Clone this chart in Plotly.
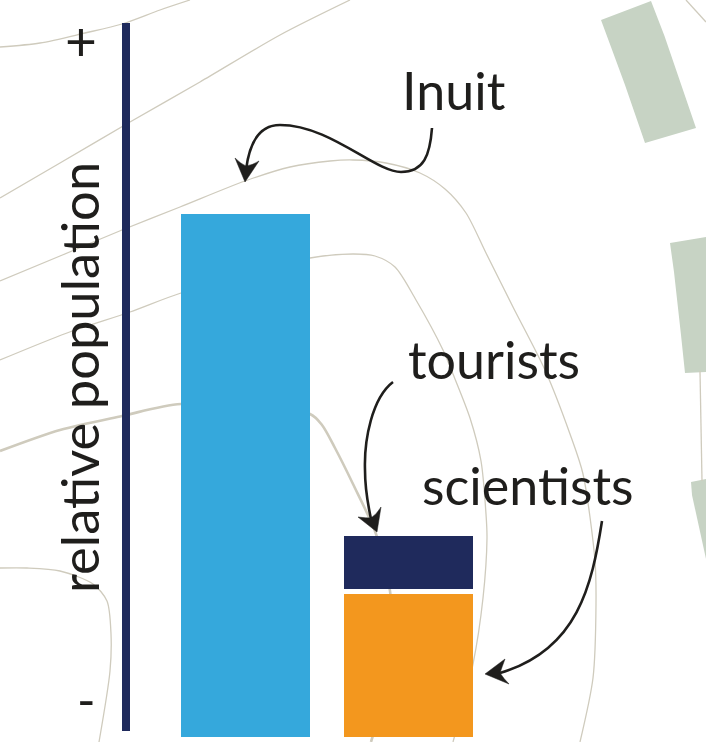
import plotly.graph_objects as go

# ---------- data ----------
groups = ["Inuit", "visitors"]
inuit_values = [523, None]
scientist_values = [None, 143]
tourist_values = [None, 53]
tourist_base = [None, 148]

axis_title = "relative population"
axis_high = "+"
axis_low = "-"

contour_1_x = [0, 40, 85, 122, 160, 190]
contour_1_y = [47, 43, 33, 24, 10, 0]
contour_2_x = [0, 60, 130, 200, 280, 350]
contour_2_y = [198, 163, 122, 82, 35, 0]
contour_3_x = [0, 60, 122, 180, 245, 290, 330, 353, 386, 420, 445, 466, 486, 513, 545, 570, 583, 595, 596, 593, 580]
contour_3_y = [281, 256, 230, 207, 181, 167, 161, 160, 163, 173, 189, 213, 253, 307, 370, 434, 474, 561, 604, 678, 742]
contour_4_x = [0, 67, 130, 181, 310, 353, 375, 395, 416, 443, 453, 470, 481, 486, 487, 483, 473, 453]
contour_4_y = [360, 333, 312, 293, 258, 254, 256, 267, 300, 350, 374, 418, 461, 514, 538, 598, 664, 742]
contour_5_x = [0, 60, 122, 181, 310, 322, 335, 353, 376, 390, 392, 371]
contour_5_y = [451, 430, 416, 404, 414, 425, 448, 484, 534, 591, 660, 742]
contour_6_x = [0, 27, 60, 93, 107, 111, 110, 99]
contour_6_y = [568, 568, 571, 584, 601, 634, 671, 742]
contour_7_x = [686, 706]
contour_7_y = [0, 22]
contour_8_x = [700, 702]
contour_8_y = [371, 481]

thin_contours = [
    (contour_1_x, contour_1_y), (contour_2_x, contour_2_y), (contour_3_x, contour_3_y),
    (contour_4_x, contour_4_y), (contour_6_x, contour_6_y), (contour_7_x, contour_7_y),
    (contour_8_x, contour_8_y),
]

patch_1_x = [601, 651, 664.5, 680.5, 696, 645, 625, 611, 601]
patch_1_y = [20, 1, 36, 82, 128, 143, 85, 47, 20]
patch_2_x = [670, 706, 706, 685, 681, 678, 674, 670]
patch_2_y = [243, 237, 372, 373, 335, 307, 272, 243]
patch_3_x = [691, 706, 706, 700, 695, 692, 691]
patch_3_y = [482, 479, 559, 533, 508, 495, 482]

# ---------- styles ----------
BLUE = "#35A8DC"
NAVY = "#1F2A5C"
ORANGE = "#F3971E"
GREEN = "#C7D3C4"
CONTOUR = "#CFCBBD"
INK = "#1F1E1C"
FONT = "Lato"

fig = go.Figure()

for px, py in (
    (patch_1_x, patch_1_y),
    (patch_2_x, patch_2_y),
    (patch_3_x, patch_3_y),
):
    fig.add_trace(go.Scatter(x=px, y=py, mode="lines", fill="toself", fillcolor=GREEN,
                             line=dict(width=0, color=GREEN), hoverinfo="skip", showlegend=False))

for cx, cy in thin_contours:
    fig.add_trace(go.Scatter(x=cx, y=cy, mode="lines", line=dict(color=CONTOUR, width=1.3, shape="spline", smoothing=0.8),
                             hoverinfo="skip", showlegend=False))
fig.add_trace(go.Scatter(x=contour_5_x, y=contour_5_y, mode="lines",
                         line=dict(color=CONTOUR, width=2.6, shape="spline", smoothing=0.8),
                         hoverinfo="skip", showlegend=False))

# bars live on their own axes: 163 px per category, value units = px above the baseline
bar_kw = dict(xaxis="x2", yaxis="y2", width=129 / 163, showlegend=False, marker_line_width=0)
fig.add_trace(go.Bar(x=groups, y=inuit_values, marker_color=BLUE, name="Inuit", **bar_kw))
fig.add_trace(go.Bar(x=groups, y=scientist_values, marker_color=ORANGE, name="scientists", **bar_kw))
fig.add_trace(go.Bar(x=groups, y=tourist_values, base=tourist_base, marker_color=NAVY, name="tourists", **bar_kw))

shapes = [
    dict(type="line", xref="x", yref="y", x0=126, x1=126, y0=23, y1=731, line=dict(color=NAVY, width=8)),
]
for stem, head in (
    ("M432,128 C430,155 424,172 401,172 C375,172 330,125 280,125 C258,125 249,145 246,170",
     "M245,182 L235,158 Q241,164 246,166 Q253,165 259,161 Z"),
    ("M393,382 C372,398 364,440 365,470 C365,490 368,505 371,519",
     "M377,532 L358,517 Q366,518 371,518 Q377,514 381,507 Z"),
    ("M602,521 C592,585 578,650 500,673",
     "M485,674 L505,659 Q502,667 500,673 Q504,679 509,684 Z"),
):
    shapes.append(dict(type="path", xref="x", yref="y", path=stem, line=dict(color=INK, width=2.6)))
    shapes.append(dict(type="path", xref="x", yref="y", path=head, fillcolor=INK, line=dict(color=INK, width=0.5)))


def label(text, x, y, size=52, angle=0, anchor="left"):
    return dict(text=text, x=x, y=y, xref="x", yref="y", xanchor=anchor, yanchor="middle", showarrow=False,
                textangle=angle, font=dict(family=FONT, size=size, color=INK))


annotations = [
    label("Inuit", 400, 90),
    label("tourists", 406, 359),
    label("scientists", 420, 485),
    label(axis_title, 78, 378, size=52.5, angle=-90, anchor="center"),
    label(axis_high, 81, 40, size=55, anchor="center"),
    label(axis_low, 86, 699, size=50, anchor="center"),
]

fig.update_layout(
    width=706, height=742, margin=dict(l=0, r=0, t=0, b=0),
    paper_bgcolor="white", plot_bgcolor="rgba(0,0,0,0)", barmode="overlay",
    shapes=shapes, annotations=annotations,
    xaxis=dict(range=[0, 706], visible=False, fixedrange=True),
    yaxis=dict(range=[742, 0], visible=False, fixedrange=True),
    xaxis2=dict(type="category", categoryorder="array", categoryarray=groups,
                range=[-245.5 / 163, (706 - 245.5) / 163], overlaying="x", visible=False, fixedrange=True),
    yaxis2=dict(range=[-5, 737], overlaying="y", visible=False, fixedrange=True),
)

fig.write_html("out.html", config=dict(displayModeBar=False), post_script="document.body.style.margin='0';")
